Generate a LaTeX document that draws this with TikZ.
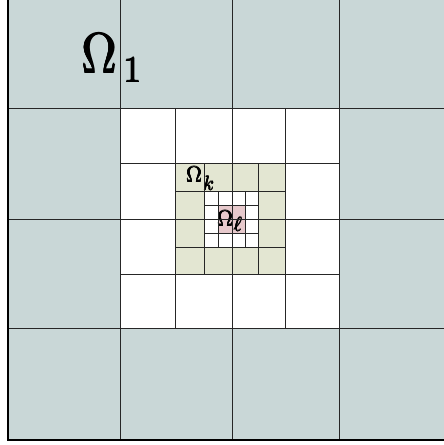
\documentclass[tikz,border=0pt]{standalone}
\definecolor{outerc}{RGB}{201,215,215}
\definecolor{greenc}{RGB}{227,230,210}
\definecolor{pinkc}{RGB}{231,201,204}
\newcommand{\fatten}[2]{\leavevmode\rlap{\kern#1\relax#2}\rlap{\kern-#1\relax#2}\rlap{\raisebox{#1}{#2}}\rlap{\raisebox{-#1}{#2}}#2}
\tikzset{
  gridline/.style={draw=black!85, line width=0.9pt},
  border/.style={draw=black, line width=2pt},
  lbl/.style={inner sep=0pt, anchor=base west}
}
\begin{document}
\begin{tikzpicture}[x=1pt,y=-1pt]
\useasboundingbox (0,0) rectangle (444,445);
\clip (0,0) rectangle (444,445);
% fills
\fill[outerc] (8,-10) rectangle (460,440);
\fill[white] (120,108) rectangle (339,328);
\fill[greenc] (175,163) rectangle (285,274);
\fill[white] (204,191) rectangle (258,247);
\fill[pinkc] (218,205) rectangle (245,233);
% labels
\node[lbl] (o1) at (81.5,73) {\scalebox{4.9}[5.7]{\fatten{0.1pt}{$\Omega$}}\hspace{6pt}\raisebox{-9pt}{\scalebox{3.7}{\fatten{0.12pt}{$1$}}}};
\node[lbl] (ok) at (186,182) {\scalebox{2.2}{\fatten{0.12pt}{$\Omega$}}\hspace{1pt}\raisebox{-8pt}{\scalebox{2.0}{\fatten{0.1pt}{$k$}}}};
\node[lbl] (ol) at (217,226) {\scalebox{2.2}{\fatten{0.12pt}{$\Omega$}}\hspace{0.5pt}\raisebox{-5pt}{\scalebox{2.0}{\fatten{0.1pt}{$\ell$}}}};
% level 1 grid
\foreach \x in {120,232,339} \draw[gridline] (\x,-10) -- (\x,440);
\foreach \y in {108,219,328} \draw[gridline] (8,\y) -- (460,\y);
% level 2 grid
\foreach \x in {175,285} \draw[gridline] (\x,108) -- (\x,328);
\foreach \y in {163,274} \draw[gridline] (120,\y) -- (340,\y);
% level 3 grid
\foreach \x in {204,258} \draw[gridline] (\x,163) -- (\x,274);
\foreach \y in {191,247} \draw[gridline] (175,\y) -- (285,\y);
% level 4 grid
\foreach \x in {218,245} \draw[gridline] (\x,191) -- (\x,247);
\foreach \y in {205,233} \draw[gridline] (204,\y) -- (258,\y);
% outer border
\draw[border] (8,-10) -- (8,440) -- (460,440);
\end{tikzpicture}
\end{document}
